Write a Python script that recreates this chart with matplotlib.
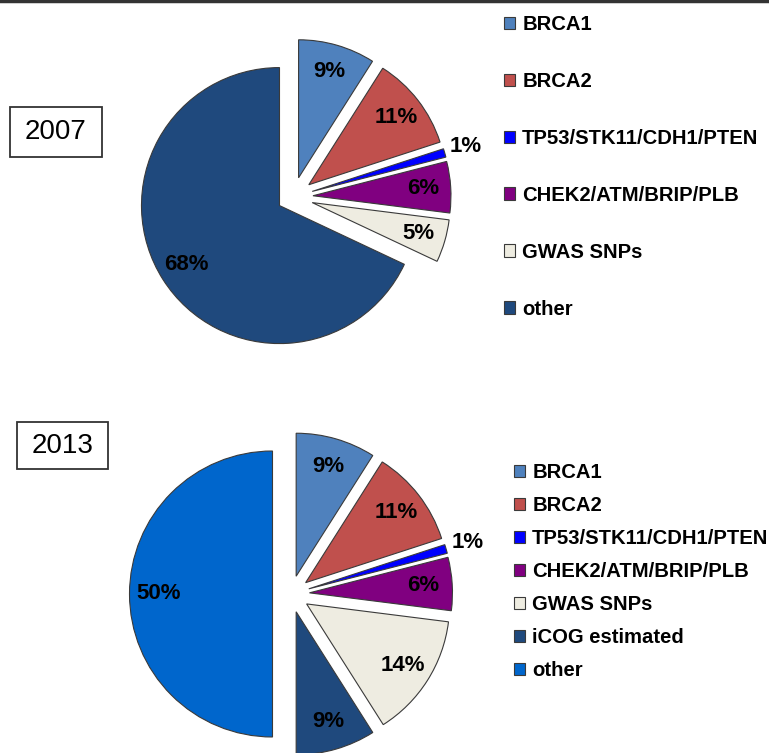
import numpy as np
import matplotlib.pyplot as plt
from matplotlib.patches import Rectangle

plt.rcParams['font.family'] = ['Liberation Sans', 'DejaVu Sans']

# data
labels_2007 = ['BRCA1', 'BRCA2', 'TP53/STK11/CDH1/PTEN', 'CHEK2/ATM/BRIP/PLB', 'GWAS SNPs', 'other']
values_2007 = [9, 11, 1, 6, 5, 68]
colors_2007 = ['#4F81BD', '#C0504D', '#0000FF', '#800080', '#EEECE1', '#1F497D']

labels_2013 = ['BRCA1', 'BRCA2', 'TP53/STK11/CDH1/PTEN', 'CHEK2/ATM/BRIP/PLB', 'GWAS SNPs', 'iCOG estimated', 'other']
values_2013 = [9, 11, 1, 6, 14, 9, 50]
colors_2013 = ['#4F81BD', '#C0504D', '#0000FF', '#800080', '#EEECE1', '#1F497D', '#0066CC']

W, H = 769, 753
fig = plt.figure(figsize=(W / 100, H / 100), dpi=100)
ax = fig.add_axes([0, 0, 1, 1])


def draw_pie(values, colors, center, radius, explode, outside):
    # explode is in data units (pixels here)
    wedges, _ = ax.pie(values, colors=colors, startangle=90, counterclock=False,
                       explode=explode, center=center, radius=radius,
                       wedgeprops=dict(edgecolor='#3a3a3a', linewidth=0.8))
    for i, w in enumerate(wedges):
        ang = np.deg2rad((w.theta1 + w.theta2) / 2)
        d = 1.16 if i in outside else 0.8
        cx, cy = w.center
        ax.text(cx + d * w.r * np.cos(ang), cy + d * w.r * np.sin(ang),
                '%d%%' % values[i], ha='center', va='center',
                fontsize=16, fontweight='bold', color='black')
    return wedges


w07 = draw_pie(values_2007, colors_2007, (293, H - 197), 138,
               [20] * 5 + [16], [2])
w13 = draw_pie(values_2013, colors_2013, (291, H - 594), 143,
               [18.5] * 7, [2])

leg1 = ax.legend(w07, labels_2007, loc='upper left', bbox_to_anchor=(504 / W, 1 - 15 / H),
                 frameon=False, prop=dict(weight='bold', size=14.6),
                 handlelength=0.55, handleheight=0.55, handletextpad=0.35,
                 labelspacing=1.87, borderpad=0, borderaxespad=0)
ax.add_artist(leg1)
ax.legend(w13, labels_2013, loc='upper left', bbox_to_anchor=(514 / W, 1 - 463 / H),
          frameon=False, prop=dict(weight='bold', size=14.6),
          handlelength=0.55, handleheight=0.55, handletextpad=0.35,
          labelspacing=0.69, borderpad=0, borderaxespad=0)

# year boxes
for (x0, y0, x1, y1), year in [((10, 107, 102, 157), '2007'), ((17, 422, 108, 469), '2013')]:
    ax.add_patch(Rectangle((x0, H - y1), x1 - x0, y1 - y0, facecolor='white',
                           edgecolor='#333333', linewidth=1.3))
    ax.text((x0 + x1) / 2, H - (y0 + y1) / 2, year, fontsize=20, ha='center', va='center')

ax.plot([0, W], [H - 1, H - 1], color='#333333', linewidth=2.5)

ax.set_xlim(0, W)
ax.set_ylim(0, H)
ax.set_aspect('equal')
ax.axis('off')

fig.savefig('out.png', dpi=100)
